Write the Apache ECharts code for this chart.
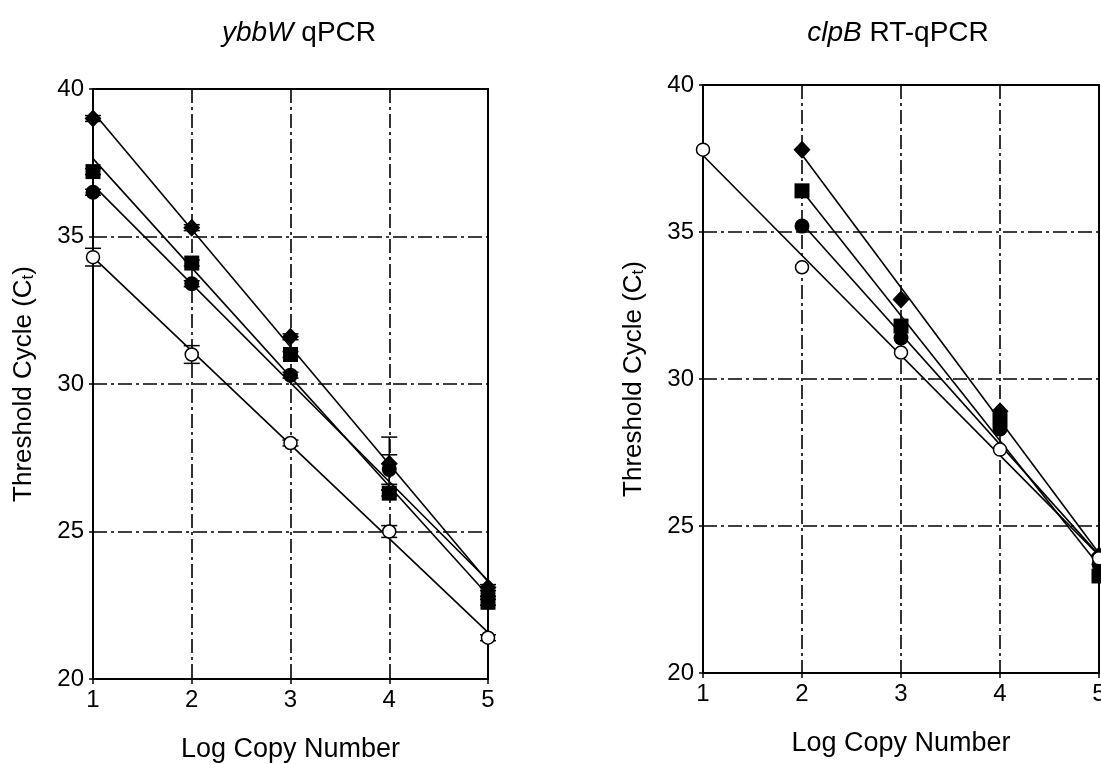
<!DOCTYPE html>
<html>
<head>
<meta charset="utf-8">
<script src="https://cdn.jsdelivr.net/npm/echarts@6/dist/echarts.min.js"></script>
<style>
  html, body { margin: 0; padding: 0; background: #fff; overflow: hidden; }
  #main { width: 1101px; height: 764px; }
</style>
</head>
<body>
<div id="main"></div>
<script>
// log copy number (x)
const logCopy = [1, 2, 3, 4, 5];
const logCopyRt = [2, 3, 4, 5];

// ybbW qPCR, Ct values
const ybbDiamond = [39.0, 35.3, 31.6, 27.3, 23.1];
const ybbSquare = [37.2, 34.1, 31.0, 26.3, 22.6];
const ybbCircle = [36.5, 33.4, 30.3, 27.1, 22.9];
const ybbOpen = [34.3, 31.0, 28.0, 25.0, 21.4];
// error bars (+/-) for ybbW
const ybbDiamondErr = [0.1, 0.1, 0.1, 0.9, 0.1];
const ybbSquareErr = [0.1, 0.1, 0.1, 0.1, 0.1];
const ybbCircleErr = [0.1, 0.1, 0.1, 0.5, 0.1];
const ybbOpenErr = [0.3, 0.3, 0.1, 0.2, 0.1];

// clpB RT-qPCR, Ct values
const clpDiamond = [37.8, 32.7, 28.9, 24.0];
const clpSquare = [36.4, 31.8, 28.6, 23.3];
const clpCircle = [35.2, 31.4, 28.3, 23.7];
const clpOpen = [37.8, 33.8, 30.9, 27.6, 23.9];

const FONT = "'Liberation Sans', Arial, sans-serif";
const myChart = echarts.init(document.getElementById('main'));

// least squares line through the points, returned as two end points
function fitLine(xs, ys) {
  const n = xs.length;
  const mx = xs.reduce((a, b) => a + b, 0) / n;
  const my = ys.reduce((a, b) => a + b, 0) / n;
  let sxy = 0, sxx = 0;
  xs.forEach((x, i) => { sxy += (x - mx) * (ys[i] - my); sxx += (x - mx) * (x - mx); });
  const b = sxy / sxx;
  const a = my - b * mx;
  const x0 = xs[0], x1 = xs[n - 1];
  return [[x0, a + b * x0], [x1, a + b * x1]];
}

function pairs(xs, ys) {
  return xs.map((x, i) => [x, ys[i]]);
}

function errData(xs, ys, es) {
  return xs.map((x, i) => [x, ys[i] - es[i], ys[i] + es[i]]);
}

function renderErr(params, api) {
  const x = api.value(0);
  const top = api.coord([x, api.value(2)]);
  const bot = api.coord([x, api.value(1)]);
  const w = 8;
  const st = { stroke: '#000', lineWidth: 1.5 };
  return {
    type: 'group',
    children: [
      { type: 'line', shape: { x1: top[0], y1: top[1], x2: bot[0], y2: bot[1] }, style: st },
      { type: 'line', shape: { x1: top[0] - w, y1: top[1], x2: top[0] + w, y2: top[1] }, style: st },
      { type: 'line', shape: { x1: bot[0] - w, y1: bot[1], x2: bot[0] + w, y2: bot[1] }, style: st }
    ]
  };
}

const markers = {
  diamond: { symbol: 'diamond', symbolSize: [17, 18], itemStyle: { color: '#000', opacity: 1 } },
  square: { symbol: 'rect', symbolSize: 15, itemStyle: { color: '#000', opacity: 1 } },
  circle: { symbol: 'circle', symbolSize: 15, itemStyle: { color: '#000', opacity: 1 } },
  open: { symbol: 'circle', symbolSize: 13, itemStyle: { color: '#fff', borderColor: '#000', borderWidth: 1.5, opacity: 1 } }
};

function fitSeries(idx, xs, ys) {
  return {
    type: 'line', xAxisIndex: idx, yAxisIndex: idx,
    data: fitLine(xs, ys), showSymbol: false, silent: true, z: 2,
    lineStyle: { color: '#000', width: 1.6 }
  };
}

function pointSeries(idx, xs, ys, kind) {
  return Object.assign({
    type: 'scatter', xAxisIndex: idx, yAxisIndex: idx,
    data: pairs(xs, ys), z: 4, clip: false
  }, markers[kind]);
}

function errSeries(idx, xs, ys, es) {
  return {
    type: 'custom', xAxisIndex: idx, yAxisIndex: idx,
    data: errData(xs, ys, es), renderItem: renderErr, z: 3, clip: false
  };
}

const gridLine = { show: true, lineStyle: { color: '#000', width: 1.6, type: [14, 4, 3, 4] } };

function xAxis(gridIndex) {
  return {
    type: 'value', gridIndex, min: 1, max: 5, interval: 1,
    name: 'Log Copy Number', nameLocation: 'middle', nameGap: 57,
    nameTextStyle: { fontFamily: FONT, fontSize: 27, color: '#000' },
    axisLine: { lineStyle: { color: '#000', width: 2 } },
    axisTick: { show: true, inside: false, length: 5, lineStyle: { color: '#000', width: 1.5 } },
    axisLabel: { fontFamily: FONT, fontSize: 24, color: '#000', margin: 9 },
    splitLine: gridLine
  };
}

function yAxis(gridIndex) {
  return {
    type: 'value', gridIndex, min: 20, max: 40, interval: 5,
    name: 'Threshold Cycle (C{sub|t})', nameLocation: 'middle', nameGap: 56,
    nameTextStyle: {
      fontFamily: FONT, fontSize: 26, color: '#000',
      rich: { sub: { fontFamily: FONT, fontSize: 17, color: '#000', verticalAlign: 'bottom', padding: [10, 0, 0, 0] } }
    },
    axisLine: { lineStyle: { color: '#000', width: 2 } },
    axisTick: { show: true, inside: false, length: 4, lineStyle: { color: '#000', width: 1.5 } },
    axisLabel: { fontFamily: FONT, fontSize: 24, color: '#000', margin: 9 },
    splitLine: gridLine
  };
}

const titleStyle = {
  fontFamily: FONT, fontSize: 28, fontWeight: 'normal', color: '#000',
  rich: { i: { fontFamily: FONT, fontSize: 28, fontStyle: 'italic', color: '#000' } }
};

const options = {
  animation: false,
  title: [
    { text: '{i|ybbW} qPCR', left: 294, top: 14, textAlign: 'center', textStyle: titleStyle },
    { text: '{i|clpB} RT-qPCR', left: 893, top: 14, textAlign: 'center', textStyle: titleStyle }
  ],
  grid: [
    { left: 93, top: 89, width: 395, height: 590, show: true, borderColor: '#000', borderWidth: 2, outerBoundsMode: 'none' },
    { left: 703, top: 85, width: 396, height: 588, show: true, borderColor: '#000', borderWidth: 2, outerBoundsMode: 'none' }
  ],
  xAxis: [xAxis(0), xAxis(1)],
  yAxis: [yAxis(0), yAxis(1)],
  series: [
    // ybbW
    fitSeries(0, logCopy, ybbDiamond),
    fitSeries(0, logCopy, ybbSquare),
    fitSeries(0, logCopy, ybbCircle),
    fitSeries(0, logCopy, ybbOpen),
    errSeries(0, logCopy, ybbDiamond, ybbDiamondErr),
    errSeries(0, logCopy, ybbSquare, ybbSquareErr),
    errSeries(0, logCopy, ybbCircle, ybbCircleErr),
    errSeries(0, logCopy, ybbOpen, ybbOpenErr),
    pointSeries(0, logCopy, ybbDiamond, 'diamond'),
    pointSeries(0, logCopy, ybbSquare, 'square'),
    pointSeries(0, logCopy, ybbCircle, 'circle'),
    pointSeries(0, logCopy, ybbOpen, 'open'),
    // clpB
    fitSeries(1, logCopyRt, clpDiamond),
    fitSeries(1, logCopyRt, clpSquare),
    fitSeries(1, logCopyRt, clpCircle),
    fitSeries(1, logCopy, clpOpen),
    pointSeries(1, logCopyRt, clpDiamond, 'diamond'),
    pointSeries(1, logCopyRt, clpSquare, 'square'),
    pointSeries(1, logCopyRt, clpCircle, 'circle'),
    pointSeries(1, logCopy, clpOpen, 'open')
  ]
};

myChart.setOption(options);
</script>
</body>
</html>
